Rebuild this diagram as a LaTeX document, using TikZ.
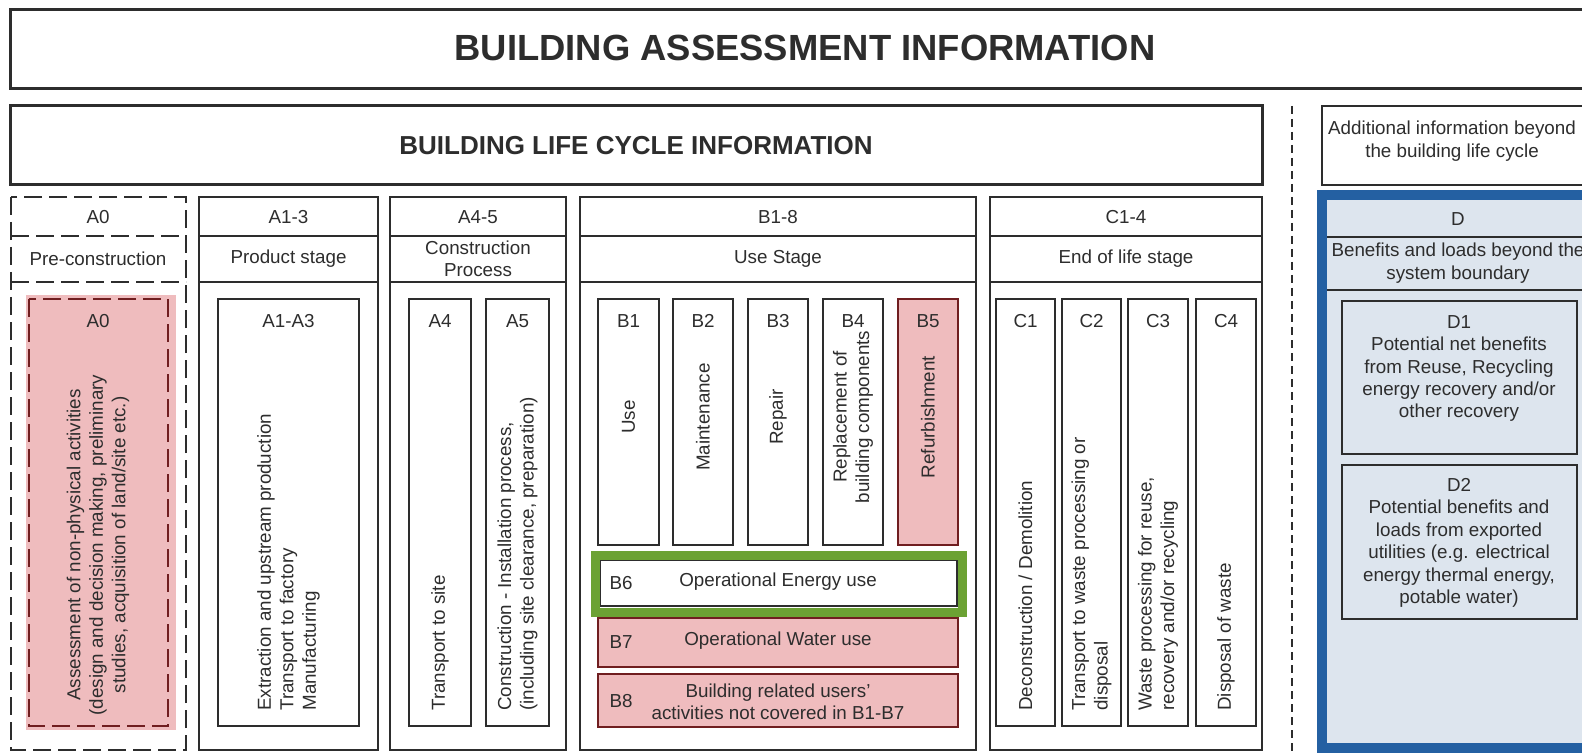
\documentclass[tikz,border=0pt]{standalone}
\usepackage{fontspec}
\setmainfont{Liberation Sans}
\definecolor{ink}{RGB}{45,45,45}
\definecolor{pinkfill}{RGB}{239,188,190}
\definecolor{darkred}{RGB}{112,30,32}
\definecolor{dfill}{RGB}{221,229,238}
\definecolor{dblue}{RGB}{36,96,162}
\definecolor{okgreen}{RGB}{108,162,52}

\begin{document}
\begin{tikzpicture}[
      x=0.5pt,
      y=-0.5pt,
      box/.style={
        draw=ink,
        line width=1.3pt
      },
      dashbox/.style={
        draw=ink,
        line width=1.3pt,
        dash pattern=on 9pt off 3.5pt
      },
      redbox/.style={
        draw=darkred,
        fill=pinkfill,
        line width=1.3pt
      },
      sep/.style={
        draw=ink,
        line width=1.4pt,
        dash pattern=on 4pt off 2.5pt
      },
      txt/.style={
        text=ink,
        font=\fontsize{9.4}{11.2}\selectfont,
        inner sep=0pt,
        align=center
      },
      vtxt/.style={
        txt,
        rotate=90,
        anchor=west,
        align=left
      },
      ctxt/.style={
        txt,
        rotate=90
      }
    ]
      \useasboundingbox (0,0) rectangle (1582,753);
      \clip (0,0) rectangle (1582,753);
      \fill[white] (0,0) rectangle (1582,753);

      \draw[box,line width=1.5pt] (10,10) rectangle (1620,89);
      \node[txt,font=\bfseries\fontsize{18.2}{21}\selectfont] (title) at (805,48) {BUILDING ASSESSMENT INFORMATION};
      \draw[box,line width=1.5pt] (10,106) rectangle (1262,185);
      \node[txt,font=\bfseries\fontsize{13}{15}\selectfont] (lifecycle) at (636,146) {BUILDING LIFE CYCLE INFORMATION};
      \draw[box] (1322,106) rectangle (1640,185);
      \node[txt] (additional) at (1452,141) {Additional information beyond\\the building life cycle};
      \draw[sep] (1292,106) -- (1292,753);

      \draw[dashbox] (11,197) rectangle (186,750);
      \draw[dashbox] (11,236) -- (186,236);
      \draw[dashbox] (11,282) -- (186,282);
      \node[txt] (codeA0) at (98,217) {A0};
      \node[txt] (stageA0) at (98,259) {Pre-construction};
      \fill[pinkfill] (26,295) rectangle (176,730);
      \draw[dashbox,draw=darkred] (29,299) rectangle (168,726);
      \node[txt] (lblA0) at (98,321) {A0};
      \node[ctxt] (txtA0) at (98,545) {Assessment of non-physical activities\\(design and decision making, preliminary\\studies, acquisition of land/site etc.)};

      \foreach \l/\r/\n/\h in {199/378/A1-3/Product stage,390/566/A4-5/{Construction\\Process},580/976/B1-8/Use Stage,990/1262/C1-4/End of life stage}{
        \draw[box] (\l,197) rectangle (\r,750);
        \draw[box] (\l,236) -- (\r,236);
        \draw[box] (\l,282) -- (\r,282);
        \node[txt] (code\n) at ({(\l+\r)/2},217) {\n};
        \node[txt] (stage\n) at ({(\l+\r)/2},259) {\h};
      }

      \foreach \l/\r/\n/\t in {218/359/A1-A3/{Extraction and upstream production\\Transport to factory\\Manufacturing},409/471/A4/Transport to site,486/549/A5/{Construction - Installation process,\\(including site clearance, preparation)},996/1055/C1/{Deconstruction / Demolition},1062/1121/C2/{Transport to waste processing or\\disposal},1128/1188/C3/{Waste processing for reuse,\\recovery and/or recycling},1196/1256/C4/Disposal of waste}{
        \draw[box] (\l,299) rectangle (\r,726);
        \node[txt] (lbl\n) at ({(\l+\r)/2},321) {\n};
        \node[vtxt] (txt\n) at ({(\l+\r)/2},711) {\t};
      }

      \foreach \l/\r/\n/\t in {598/659/B1/Use,673/733/B2/Maintenance,748/808/B3/Repair,823/883/B4/{Replacement of\\building components}}{
        \draw[box] (\l,299) rectangle (\r,545);
        \node[txt] (lbl\n) at ({(\l+\r)/2},321) {\n};
        \node[ctxt] (txt\n) at ({(\l+\r)/2},417) {\t};
      }
      \draw[redbox] (898,299) rectangle (958,545);
      \node[txt] (lblB5) at (928,321) {B5};
      \node[ctxt] (txtB5) at (928,417) {Refurbishment};

      \draw[box,fill=white] (600,560) rectangle (957,606);
      \draw[draw=okgreen,line width=4.5pt] (595.5,555.5) rectangle (962.5,612.5);
      \node[txt] (lblB6) at (621,583) {B6};
      \node[txt] (txtB6) at (778,582) {Operational Energy use};
      \draw[redbox] (598,618) rectangle (958,667);
      \node[txt] (lblB7) at (621,642) {B7};
      \node[txt] (txtB7) at (778,641) {Operational Water use};
      \draw[redbox] (598,674) rectangle (958,727);
      \node[txt] (lblB8) at (621,701) {B8};
      \node[txt] (txtB8) at (778,702) {Building related users'\\activities not covered in B1-B7};

      \fill[dfill] (1317,190) rectangle (1640,753);
      \draw[box] (1327,237) -- (1640,237);
      \draw[box] (1327,290) -- (1640,290);
      \node[txt] (codeD) at (1458,219) {D};
      \node[txt] (stageD) at (1458,263) {Benefits and loads beyond the\\system boundary};
      \draw[box] (1342,301) rectangle (1577,454);
      \node[txt,anchor=north] (txtD1) at (1459,315) {D1\\Potential net benefits\\from Reuse, Recycling\\energy recovery and/or\\other recovery};
      \draw[box] (1342,465) rectangle (1577,619);
      \node[txt,anchor=north] (txtD2) at (1459,478) {D2\\Potential benefits and\\loads from exported\\utilities (e.g. electrical\\energy thermal energy,\\potable water)};
      \draw[draw=dblue,line width=5pt] (1322,195) rectangle (1660,748);
    \end{tikzpicture}
\end{document}
